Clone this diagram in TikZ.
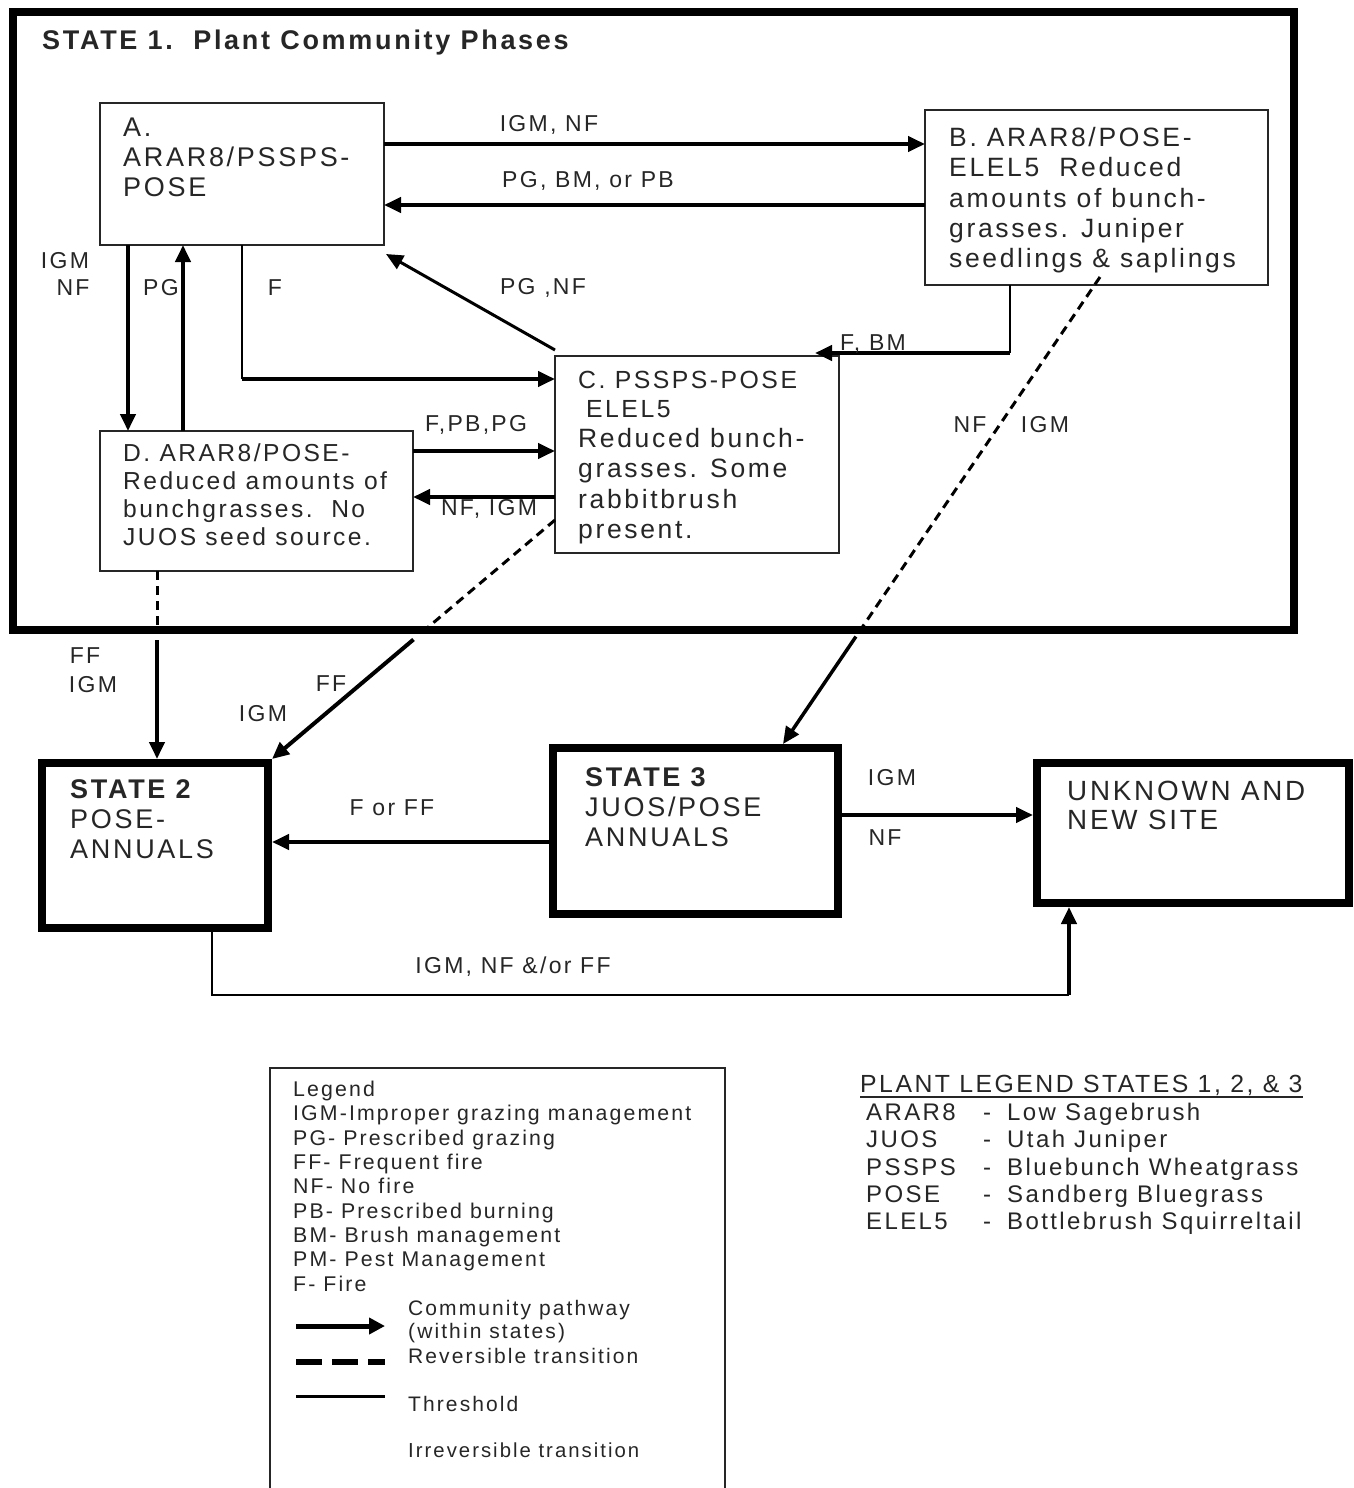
\documentclass[tikz,border=0pt]{standalone}
\usepackage{fontspec}
\setmainfont{Liberation Sans}[LetterSpace=10]
\usetikzlibrary{arrows.meta,calc}
\begin{document}
\begin{tikzpicture}[x=1pt,y=-1pt,
  tip/.style={-{Triangle[length=17pt,width=15pt]}},
  bx/.style={draw=black!85,line width=2pt,anchor=north west,inner sep=0pt,outer sep=0pt},
  sbx/.style={draw=black,line width=8pt,anchor=north west,inner sep=0pt,outer sep=0pt},
  txt/.style={anchor=north west,align=left,inner sep=0pt,text=black!85},
  lbl/.style={inner sep=0pt,text=black!85,font=\fontsize{23}{27}\selectfont},
  cpath/.style={line width=4pt,tip},
  thr/.style={line width=2.5pt},
  rev/.style={line width=3pt,dash pattern=on 9pt off 6pt},
]
\useasboundingbox (0,0) rectangle (1353,1488);
\fill[white] (0,0) rectangle (1353,1488);

% ---------- State 1 frame and title
\node[sbx,minimum width=1281pt,minimum height=618pt] (S1) at (13,12) {};
\node[txt,font=\bfseries\fontsize{27}{30}\selectfont] (T) at (42,30) {STATE 1.\ \ Plant Community Phases};

% ---------- phase boxes
\node[bx,minimum width=284pt,minimum height=142pt] (A) at (100,103) {};
\node[txt,font=\fontsize{27}{30}\selectfont] (At) at (123,118) {A.\\ARAR8/PSSPS-\\POSE};

\node[bx,minimum width=343pt,minimum height=175pt] (B) at (925,110) {};
\node[txt,font=\fontsize{26.5}{30.3}\selectfont] (Bt) at (949,127) {B. ARAR8/POSE-\\ELEL5\ \ Reduced\\amounts of bunch-\\grasses. Juniper\\seedlings \& saplings};

\node[bx,minimum width=284pt,minimum height=197pt] (C) at (555,356) {};
\node[txt,font=\fontsize{24.8}{29}\selectfont] (Ct1) at (578,371) {C. PSSPS-POSE\\\hspace*{8pt}ELEL5};
\node[txt,font=\fontsize{26.5}{30.3}\selectfont] (Ct2) at (578,428) {Reduced bunch-\\grasses. Some\\rabbitbrush\\present.};

\node[bx,minimum width=313pt,minimum height=140pt] (D) at (100,431) {};
\node[txt,font=\fontsize{24.6}{28}\selectfont] (Dt) at (123,443) {D. ARAR8/POSE-\\Reduced amounts of\\bunchgrasses.\ \ No\\JUOS seed source.};

% ---------- other states
\node[sbx,minimum width=226pt,minimum height=165pt] (S2) at (42,763) {};
\node[txt,font=\fontsize{27}{30}\selectfont] (S2t) at (70,779) {{\bfseries STATE 2}\\POSE-\\ANNUALS};

\node[sbx,minimum width=285pt,minimum height=166pt] (S3) at (553,748) {};
\node[txt,font=\fontsize{27}{30}\selectfont] (S3t) at (585,767) {{\bfseries STATE 3}\\JUOS/POSE\\ANNUALS};

\node[sbx,minimum width=312pt,minimum height=140pt] (U) at (1037,763) {};
\node[txt,font=\fontsize{27.8}{28.5}\selectfont] (Ut) at (1067,781) {UNKNOWN AND\\NEW SITE};

% ---------- connectors inside state 1
\draw[cpath] (A.east |- 0,144) -- (B.west |- 0,144);
\draw[cpath] (B.west |- 0,205) -- (A.east |- 0,205);
\draw[cpath] (A.south -| 128,0) -- (D.north -| 128,0);
\draw[cpath] (D.north -| 183,0) -- (A.south -| 183,0);
\coordinate (fturn) at (242,379);
\draw[thr] (A.south -| fturn) -- (fturn);
\draw[cpath] (fturn) -- (C.west |- fturn);
\draw[line width=3pt,tip] ($(C.north west)+(0,-6)$) -- ($(A.south east)+(2,9)$);
\coordinate (fbm) at (1010,353);
\draw[thr] (B.south -| fbm) -- (fbm);
\draw[cpath] (fbm) -- (fbm -| 815,0);
\draw[cpath] (D.east |- 0,451) -- (C.west |- 0,451);
\draw[cpath] (C.west |- 0,497) -- (D.east |- 0,497);

% ---------- transitions
\draw[rev] (D.south -| 157,0) -- (S1.south -| 157,0);
\draw[cpath,shorten >=4pt] ($(S1.south -| 157,0)+(0,10)$) -- (S2.north -| 157,0);

\coordinate (c2a) at (C.west |- 0,520);
\coordinate (c2b) at ($(S2.north east)+(4,-4)$);
\draw[rev] (c2a) -- ($(c2a)!0.46!(c2b)$);
\draw[cpath] ($(c2a)!0.50!(c2b)$) -- (c2b);

\coordinate (b3a) at ($(B.south -| 1100,0)+(0,-8)$);
\coordinate (b3b) at ($(S3.north -| 783,0)+(0,-4)$);
\draw[rev] (b3a) -- ($(b3a)!0.756!(b3b)$);
\draw[line width=3.5pt,tip] ($(b3a)!0.77!(b3b)$) -- (b3b);

\draw[cpath,shorten >=4pt] (S3.west |- 0,842) -- (S2.east |- 0,842);
\draw[cpath,shorten >=4pt] (S3.east |- 0,815) -- (U.west |- 0,815);

\coordinate (g1) at (212,995);
\coordinate (g2) at (1069,995);
\draw[thr] (S2.south -| g1) -- (g1) -- (g2);
\draw[cpath,shorten >=4pt] (g2) -- (U.south -| g2);

% ---------- labels
\node[lbl] (l1) at (549,125) {IGM, NF};
\node[lbl] (l2) at (588,181) {PG, BM, or PB};
\node[lbl] (l3) at (65,261) {IGM};
\node[lbl] (l4) at (73,288) {NF};
\node[lbl] (l5) at (161,288) {PG};
\node[lbl] (l6) at (275,288) {F};
\node[lbl] (l7) at (543,288) {PG ,NF};
\node[lbl] (l8) at (873,344) {F, BM};
\node[lbl] (l9) at (476,425) {F,PB,PG};
\node[lbl] (l10) at (489,509) {NF, IGM};
\node[lbl] (l11) at (970,425) {NF};
\node[lbl] (l12) at (1045,425) {IGM};
\node[lbl] (l13) at (85,656) {FF};
\node[lbl] (l14) at (93,685) {IGM};
\node[lbl] (l15) at (331,684) {FF};
\node[lbl] (l16) at (263,714) {IGM};
\node[lbl] (l17) at (392,808) {F or FF};
\node[lbl] (l18) at (892,778) {IGM};
\node[lbl] (l19) at (885,838) {NF};
\node[lbl] (l20) at (513,967) {IGM, NF \&/or FF};

% ---------- legend
\node[bx,minimum width=455pt,minimum height=440pt] (L) at (270,1068) {};
\node[txt,font=\fontsize{21.3}{24.3}\selectfont] (Lt) at (293,1081) {Legend\\IGM-Improper grazing management\\PG- Prescribed grazing\\FF- Frequent fire\\NF- No fire\\PB- Prescribed burning\\BM- Brush management\\PM- Pest Management\\F- Fire};
\draw[line width=5pt,-{Triangle[length=16pt,width=16pt]}] (296,1326) -- (385,1326);
\draw[line width=6pt,dash pattern=on 26pt off 10pt] (296,1362) -- (385,1362);
\draw[line width=3pt] (296,1396) -- (385,1396);
\node[txt,font=\fontsize{21}{23}\selectfont] (L1) at (408,1300) {Community pathway\\(within states)};
\node[txt,font=\fontsize{21}{23}\selectfont] (L2) at (408,1348) {Reversible transition};
\node[txt,font=\fontsize{21}{23}\selectfont] (L3) at (408,1396) {Threshold};
\node[txt,font=\fontsize{20.3}{23}\selectfont] (L4) at (408,1443) {Irreversible transition};

% ---------- plant legend
\node[txt,font=\fontsize{24.8}{27}\selectfont] (PLh) at (860,1075) {PLANT LEGEND STATES 1, 2, \& 3};
\draw[line width=1.5pt,black!85] (PLh.south west |- 0,1097) -- (PLh.south east |- 0,1097);
\node[txt,font=\fontsize{24}{27.2}\selectfont] (PL) at (866,1103) {%
\makebox[117pt][l]{ARAR8}\makebox[24pt][l]{-}Low Sagebrush\\
\makebox[117pt][l]{JUOS}\makebox[24pt][l]{-}Utah Juniper\\
\makebox[117pt][l]{PSSPS}\makebox[24pt][l]{-}Bluebunch Wheatgrass\\
\makebox[117pt][l]{POSE}\makebox[24pt][l]{-}Sandberg Bluegrass\\
\makebox[117pt][l]{ELEL5}\makebox[24pt][l]{-}Bottlebrush Squirreltail};
\end{tikzpicture}
\end{document}
